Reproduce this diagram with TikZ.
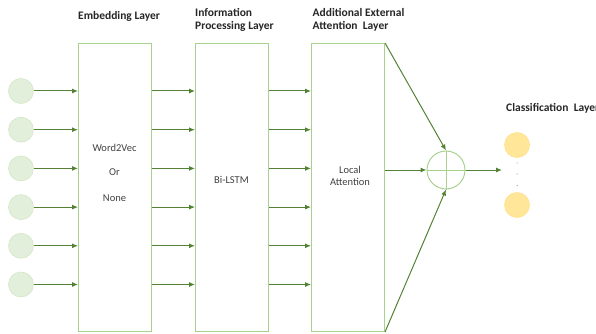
\documentclass[tikz,border=0pt]{standalone}
\usepackage{fontspec}
\setmainfont{Carlito}
\usetikzlibrary{arrows.meta}
\definecolor{boxgreen}{HTML}{A9D18E}
\definecolor{arrgreen}{HTML}{548235}
\definecolor{inpfill}{HTML}{E2EFDA}
\definecolor{inpline}{HTML}{D5E6C8}
\definecolor{outfill}{HTML}{FFE699}
\definecolor{outline}{HTML}{FFE08A}
\definecolor{txtgray}{HTML}{404040}
\tikzset{
  layerbox/.style={draw=boxgreen, line width=1pt, minimum width=73pt, minimum height=288pt, inner sep=0pt, anchor=north west},
  incirc/.style={circle, fill=inpfill, draw=inpline, line width=0.6pt, minimum size=25pt, inner sep=0pt},
  outcirc/.style={circle, fill=outfill, draw=outline, line width=0.6pt, minimum size=25pt, inner sep=0pt},
  arr/.style={draw=arrgreen, line width=1pt, -{Latex[length=6pt,width=5pt]}},
  hdr/.style={font=\bfseries\fontsize{11.5}{13}\selectfont, text=black!85, align=left, inner sep=0pt},
  btxt/.style={font=\fontsize{10.5}{12.5}\selectfont, text=txtgray, inner sep=0pt},
  dotn/.style={circle, fill=black!60, minimum size=1pt, inner sep=0pt}
}
\begin{document}
\begin{tikzpicture}[x=1pt, y=-1pt]
\useasboundingbox (0,0) rectangle (596,334);
% boxes
\node[layerbox] (b1) at (78,43) {};
\node[layerbox] (b2) at (195,43) {};
\node[layerbox] (b3) at (311,43) {};
% inputs
\foreach \i/\y in {1/91,2/129.7,3/168.4,4/207.1,5/245.8,6/284.5} {
  \node[incirc] (in\i) at (21,\y) {};
  \coordinate (r\i) at (100,\y);
  \draw[arr] (in\i.east) -- (r\i -| b1.west);
  \draw[arr] (r\i -| b1.east) -- (r\i -| b2.west);
  \draw[arr] (r\i -| b2.east) -- (r\i -| b3.west);
}
% sum
\node[circle, draw=boxgreen, line width=1pt, minimum size=38pt, inner sep=0pt] (sum) at (446,170) {};
\draw[boxgreen, line width=1pt] (sum.north) -- (sum.south) (sum.west) -- (sum.east);
\draw[arr] (b3.east |- sum) -- (sum.west);
\draw[arr] (b3.north east) -- (sum.north);
\draw[arr] (b3.south east) -- (sum.south);
% outputs
\node[outcirc] (o1) at (517,145) {};
\node[outcirc] (o2) at (517,205) {};
\coordinate (oe) at (502,170);
\draw[arr] (sum.east) -- (oe);
\node[dotn] (d1) at (517,163) {};
\node[dotn] (d2) at (517,174) {};
\node[dotn] (d3) at (517,185.5) {};
% headers
\node[hdr, anchor=west] (h1) at (78,16) {Embedding Layer};
\node[hdr, anchor=north west] (h2) at (195,8) {Information\\Processing Layer};
\node[hdr, anchor=north west] (h3) at (312.5,8) {Additional External\\Attention\ \ Layer};
\node[hdr, anchor=west] (h4) at (506,108) {Classification\ \ Layer};
% box texts
\node[btxt] (t1) at (114.5,148) {Word2Vec};
\node[btxt] (t2) at (114.5,172) {Or};
\node[btxt] (t3) at (114.5,198) {None};
\node[btxt] (t4) at (231.5,179.5) {Bi-LSTM};
\node[btxt, align=center] (t5) at (350,176) {Local\\Attention};
\end{tikzpicture}
\end{document}
